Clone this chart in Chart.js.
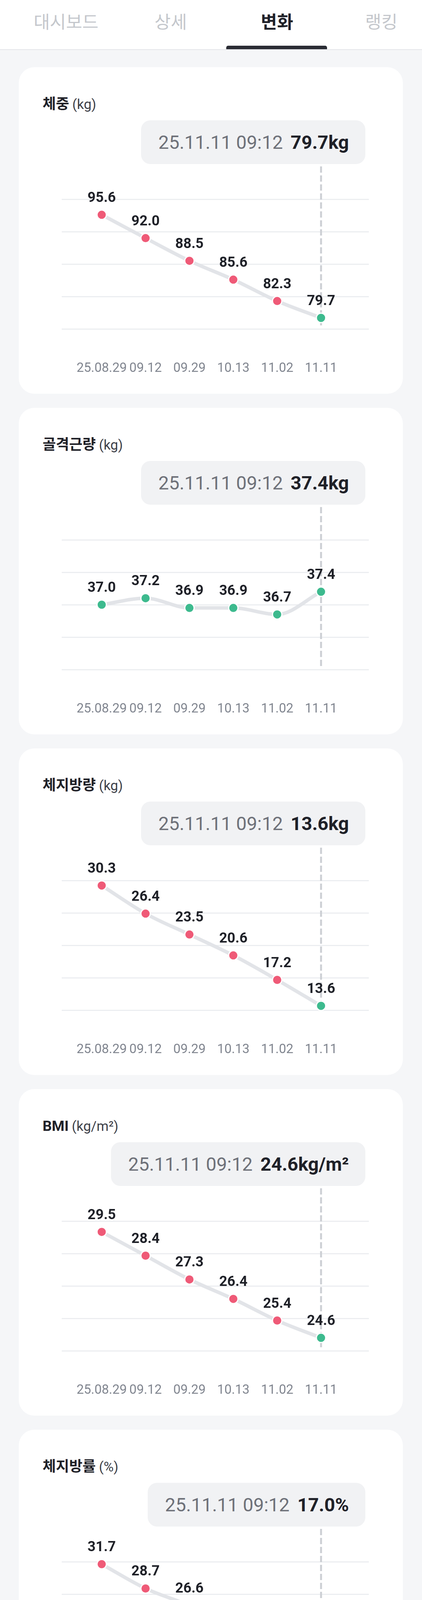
<!DOCTYPE html>
<html lang="ko">
<head>
<meta charset="utf-8">
<script src="https://cdn.jsdelivr.net/npm/chart.js@4.4.1/dist/chart.umd.min.js"></script>
<style>
html,body{margin:0;padding:0;}
body{width:1080px;height:6242px;overflow:hidden;background:#f5f6f8;position:relative;font-family:Roboto,"Noto Sans CJK KR",sans-serif;}
.tabs{position:absolute;left:0;top:0;width:1080px;height:126px;background:#fff;border-bottom:2px solid #e4e5e9;}
.tab{position:absolute;top:0;height:108px;line-height:108px;font-family:"Noto Sans CJK KR",sans-serif;font-size:45px;color:#c4c7cc;transform:translateX(-50%);white-space:nowrap;}
.tab.on{color:#1f2129;font-weight:700;}
.bar{position:absolute;left:579px;top:117px;width:258px;height:9px;background:#2a2c34;border-radius:5px 5px 0 0;}
.card{position:absolute;left:48px;width:983px;height:836px;background:#fff;border-radius:40px;}
.title{position:absolute;left:61px;top:70px;height:50px;line-height:50px;font-size:37px;font-weight:700;color:#1f2128;white-space:nowrap;}
.title .u{font-weight:400;font-size:35px;color:#3d4048;margin-left:8px;}
.tip{position:absolute;right:96px;top:136px;height:112px;padding:0 42px 0 44px;border-radius:24px;background:#f1f2f4;display:flex;align-items:center;font-size:48px;white-space:nowrap;}
.tip .d{color:#6e7179;}
.tip .v{color:#1f2128;font-weight:700;margin-left:20px;}
canvas{position:absolute;left:72px;top:240px;}
</style>
</head>
<body>
<div class="tabs">
  <div class="tab" style="left:169px">대시보드</div>
  <div class="tab" style="left:437px">상세</div>
  <div class="tab on" style="left:709px">변화</div>
  <div class="tab" style="left:976px">랭킹</div>
  <div class="bar"></div>
</div>
<div id="cards"></div>
<script>
// ---- data ----
const categories = ['25.08.29', '09.12', '09.29', '10.13', '11.02', '11.11'];
const tipStamp = '25.11.11 09:12';

const titles = ['체중', '골격근량', '체지방량', 'BMI', '체지방률', '복부지방률', '내장지방레벨'];
const units = ['kg', 'kg', 'kg', 'kg/m²', '%', '', 'Level'];

const weight   = [95.6, 92.0, 88.5, 85.6, 82.3, 79.7];
const muscle   = [37.0, 37.2, 36.9, 36.9, 36.7, 37.4];
const fatMass  = [30.3, 26.4, 23.5, 20.6, 17.2, 13.6];
const bmi      = [29.5, 28.4, 27.3, 26.4, 25.4, 24.6];
const fatPct   = [31.7, 28.7, 26.6, 24.0, 20.8, 17.0];
const waistHip = [0.98, 0.97, 0.95, 0.93, 0.88, 0.86];
const visceral = [13, 11, 10, 8, 7, 6];

const weightStatus   = ['high', 'high', 'high', 'high', 'high', 'ok'];
const muscleStatus   = ['ok', 'ok', 'ok', 'ok', 'ok', 'ok'];
const fatMassStatus  = ['high', 'high', 'high', 'high', 'high', 'ok'];
const bmiStatus      = ['high', 'high', 'high', 'high', 'high', 'ok'];
const fatPctStatus   = ['high', 'high', 'high', 'high', 'high', 'ok'];
const waistHipStatus = ['high', 'high', 'high', 'high', 'ok', 'ok'];
const visceralStatus = ['high', 'high', 'high', 'ok', 'ok', 'ok'];

const decimals = [1, 1, 1, 1, 1, 2, 0];
const yMins = [78, 35, 13, 24, 16, 0.85, 6];
const yMaxs = [98, 39, 31, 30, 32, 1.05, 13];
const gridCounts = [5, 5, 5, 5, 5, 5, 8];

const seriesList = [weight, muscle, fatMass, bmi, fatPct, waistHip, visceral];
const statusList = [weightStatus, muscleStatus, fatMassStatus, bmiStatus, fatPctStatus, waistHipStatus, visceralStatus];

// ---- styles ----
const RED = '#ef5a77';
const GREEN = '#3dba8e';
const CARD_TOP = 172, CARD_STEP = 872;

const guidePlugin = {
  id: 'guide',
  beforeDatasetsDraw(chart) {
    const ctx = chart.ctx;
    const n = chart.data.datasets[0].data.length;
    const x = chart.scales.x.getPixelForValue(n - 1);
    ctx.save();
    ctx.strokeStyle = '#cdd0d5';
    ctx.lineWidth = 5;
    ctx.setLineDash([16, 7]);
    ctx.beginPath();
    ctx.moveTo(x, 14);
    ctx.lineTo(x, chart.chartArea.bottom - 6);
    ctx.stroke();
    ctx.restore();
  }
};

const valueLabelPlugin = {
  id: 'valueLabels',
  afterDatasetsDraw(chart) {
    const ctx = chart.ctx;
    const meta = chart.getDatasetMeta(0);
    const ds = chart.data.datasets[0];
    ctx.save();
    ctx.font = 'bold 36px Roboto';
    ctx.fillStyle = '#1f2128';
    ctx.textAlign = 'center';
    ctx.textBaseline = 'middle';
    meta.data.forEach((pt, i) => {
      ctx.fillText(ds.data[i].y.toFixed(ds.decimals), pt.x, pt.y - 42);
    });
    ctx.restore();
  }
};

const host = document.getElementById('cards');

seriesList.forEach((values, k) => {
  const card = document.createElement('div');
  card.className = 'card';
  card.style.top = (CARD_TOP + k * CARD_STEP) + 'px';

  const title = document.createElement('div');
  title.className = 'title';
  title.textContent = titles[k];
  if (units[k]) {
    const u = document.createElement('span');
    u.className = 'u';
    u.textContent = '(' + units[k] + ')';
    title.appendChild(u);
  }
  card.appendChild(title);

  const tip = document.createElement('div');
  tip.className = 'tip';
  const d = document.createElement('span');
  d.className = 'd';
  d.textContent = tipStamp;
  const v = document.createElement('span');
  v.className = 'v';
  v.textContent = values[values.length - 1].toFixed(decimals[k]) + units[k];
  tip.appendChild(d);
  tip.appendChild(v);
  card.appendChild(tip);

  const canvas = document.createElement('canvas');
  canvas.width = 839;
  canvas.height = 560;
  canvas.style.width = '839px';
  canvas.style.height = '560px';
  card.appendChild(canvas);
  host.appendChild(card);

  new Chart(canvas, {
    type: 'line',
    data: {
      datasets: [{
        data: values.map((val, i) => ({ x: i, y: val })),
        decimals: decimals[k],
        borderColor: '#e2e4e8',
        borderWidth: 9,
        cubicInterpolationMode: 'monotone',
        fill: false,
        clip: false,
        pointRadius: 12,
        pointHoverRadius: 12,
        pointBorderWidth: 3,
        pointBorderColor: '#ffffff',
        pointBackgroundColor: statusList[k].map(s => s === 'ok' ? GREEN : RED)
      }]
    },
    options: {
      responsive: false,
      animation: false,
      events: [],
      devicePixelRatio: 1,
      layout: { padding: { top: 98, left: 0, right: 0, bottom: 0 } },
      plugins: { legend: { display: false }, tooltip: { enabled: false } },
      scales: {
        x: {
          type: 'linear',
          min: -0.91,
          max: 6.09,
          grid: { display: false },
          border: { display: false },
          afterBuildTicks: s => { s.ticks = categories.map((_, i) => ({ value: i })); },
          afterFit: s => { s.height = 130; },
          ticks: {
            autoSkip: false,
            maxRotation: 0,
            includeBounds: false,
            padding: 74,
            color: '#80858f',
            font: { family: 'Roboto', size: 33 },
            callback: val => categories[val]
          }
        },
        y: {
          min: yMins[k],
          max: yMaxs[k],
          grid: { color: '#eceef1', lineWidth: 3, drawTicks: false },
          border: { display: false },
          ticks: { display: false, count: gridCounts[k] },
          afterFit: s => { s.width = 0; }
        }
      }
    },
    plugins: [guidePlugin, valueLabelPlugin]
  });
});
</script>
</body>
</html>
